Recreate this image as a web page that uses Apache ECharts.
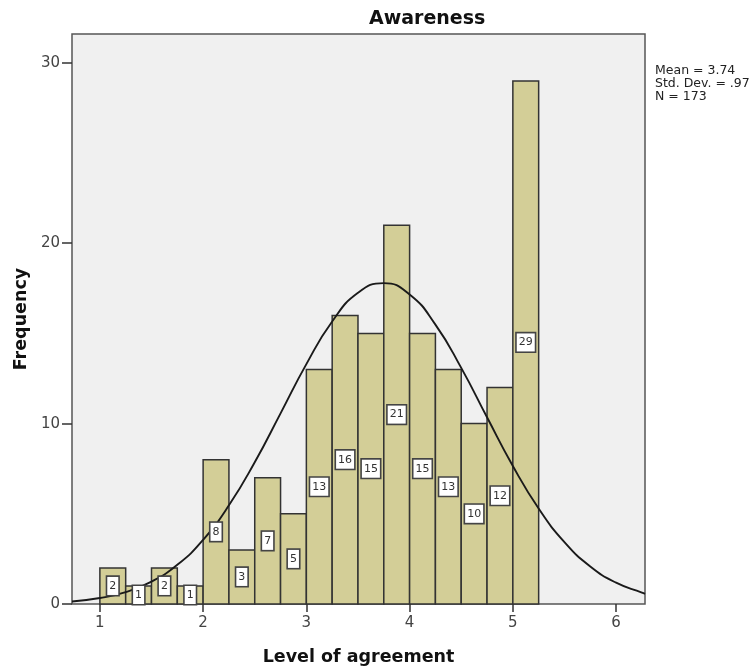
<!DOCTYPE html>
<html>
<head>
<meta charset="utf-8">
<script src="https://cdn.jsdelivr.net/npm/echarts@6/dist/echarts.min.js"></script>
<style>
html,body{margin:0;padding:0;background:#fff;}
#chart{width:755px;height:671px;}
</style>
</head>
<body>
<div id="chart"></div>
<script>
// Histogram bins (Level of agreement) and frequencies
var binStarts = [1.00, 1.25, 1.50, 1.75, 2.00, 2.25, 2.50, 2.75, 3.00, 3.25, 3.50, 3.75, 4.00, 4.25, 4.50, 4.75, 5.00];
var binEnds   = [1.25, 1.50, 1.75, 2.00, 2.25, 2.50, 2.75, 3.00, 3.25, 3.50, 3.75, 4.00, 4.25, 4.50, 4.75, 5.00, 5.25];
var frequencies = [2, 1, 2, 1, 8, 3, 7, 5, 13, 16, 15, 21, 15, 13, 10, 12, 29];

// Normal curve
var curveX = [0.73, 1.00, 1.25, 1.50, 1.75, 2.00, 2.25, 2.50, 2.75, 3.00, 3.25, 3.50, 3.75, 4.00, 4.25, 4.50, 4.75, 5.00, 5.25, 5.50, 5.75, 6.00, 6.25, 6.28];
var curveY = [0.14, 0.33, 0.66, 1.24, 2.17, 3.56, 5.47, 7.86, 10.57, 13.30, 15.66, 17.25, 17.79, 17.16, 15.49, 13.09, 10.35, 7.65, 5.29, 3.43, 2.08, 1.18, 0.63, 0.56];

var xTicks = [1, 2, 3, 4, 5, 6];
var yTicks = [0, 10, 20, 30];

var titleText = 'Awareness';
var xName = 'Level of agreement';
var yName = 'Frequency';
var statsLines = ['Mean = 3.74', 'Std. Dev. = .97', 'N = 173'];

var barData = binStarts.map(function (s, i) { return [s, binEnds[i], frequencies[i]]; });
var curveData = curveX.map(function (x, i) { return [x, curveY[i]]; });

var FONT = 'DejaVu Sans';
var chart = echarts.init(document.getElementById('chart'));

chart.setOption({
  backgroundColor: '#ffffff',
  animation: false,
  title: {
    text: titleText,
    left: 369,
    top: 10,
    padding: 0,
    textStyle: { fontFamily: FONT, fontSize: 19, fontWeight: 'bold', color: '#111' }
  },
  graphic: [{
    type: 'text',
    left: 655,
    top: 64,
    style: {
      text: statsLines.join('\n'),
      font: '12.5px ' + FONT,
      lineHeight: 13,
      fill: '#222'
    }
  }],
  grid: {
    left: 72, right: 110, top: 34, bottom: 65,
    show: true,
    backgroundColor: '#f0f0f0',
    borderColor: '#555',
    borderWidth: 1.5
  },
  xAxis: {
    type: 'value',
    min: 0.73,
    max: 6.28,
    name: xName,
    nameLocation: 'middle',
    nameGap: 44,
    nameTextStyle: { fontFamily: FONT, fontSize: 17.5, fontWeight: 'bold', color: '#111' },
    axisLine: { show: false },
    splitLine: { show: false },
    axisTick: { show: true, length: 8, lineStyle: { color: '#333', width: 1.5 }, customValues: xTicks },
    axisLabel: { fontFamily: FONT, fontSize: 15, color: '#444', margin: 12, customValues: xTicks }
  },
  yAxis: {
    type: 'value',
    min: 0,
    max: 31.6,
    name: yName,
    nameLocation: 'middle',
    nameGap: 42,
    nameTextStyle: { fontFamily: FONT, fontSize: 17.5, fontWeight: 'bold', color: '#111' },
    axisLine: { show: false },
    splitLine: { show: false },
    axisTick: { show: true, length: 10, lineStyle: { color: '#333', width: 1.5 }, customValues: yTicks },
    axisLabel: { fontFamily: FONT, fontSize: 15, color: '#444', margin: 12, customValues: yTicks }
  },
  series: [
    {
      type: 'custom',
      name: 'bars',
      z: 2,
      data: barData,
      encode: { x: [0, 1], y: 2 },
      renderItem: function (params, api) {
        var p0 = api.coord([api.value(0), 0]);
        var p1 = api.coord([api.value(1), api.value(2)]);
        return {
          type: 'rect',
          shape: { x: p0[0], y: p1[1], width: p1[0] - p0[0], height: p0[1] - p1[1] },
          style: { fill: '#d3ce97', stroke: '#333', lineWidth: 1.5 }
        };
      }
    },
    {
      type: 'line',
      name: 'normal',
      z: 3,
      data: curveData,
      smooth: true,
      showSymbol: false,
      symbol: 'none',
      lineStyle: { color: '#1a1a1a', width: 1.9 }
    },
    {
      type: 'custom',
      name: 'labels',
      z: 4,
      data: barData,
      encode: { x: [0, 1], y: 2 },
      renderItem: function (params, api) {
        var c = api.coord([(api.value(0) + api.value(1)) / 2, api.value(2) / 2]);
        return {
          type: 'text',
          x: c[0],
          y: c[1],
          style: {
            text: String(api.value(2)),
            font: '11px ' + FONT,
            fill: '#333',
            align: 'center',
            verticalAlign: 'middle',
            backgroundColor: '#ffffff',
            borderColor: '#444',
            borderWidth: 1.6,
            padding: [4, 2, 3, 2]
          }
        };
      }
    }
  ]
});
</script>
</body>
</html>
